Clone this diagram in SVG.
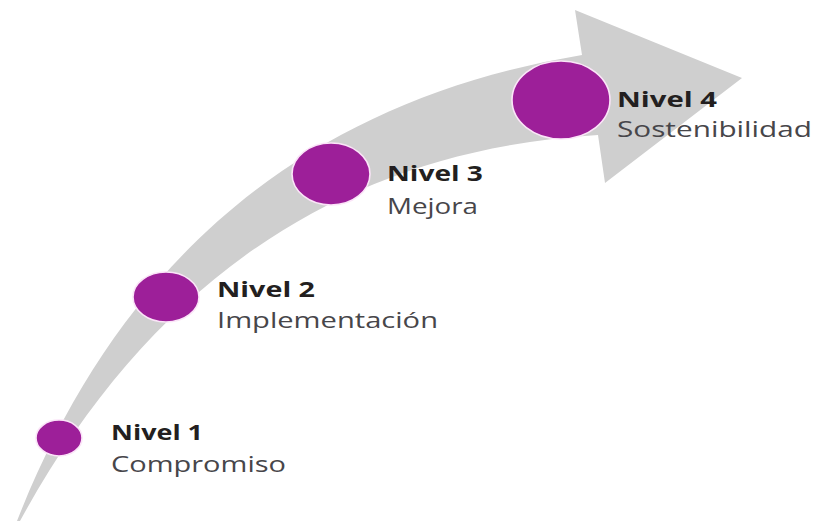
<svg xmlns="http://www.w3.org/2000/svg" width="815" height="523" viewBox="0 0 815 523">
  <style>
    .dot { fill: #9d1f99; stroke: #fbe4f8; stroke-width: 1.6; }
    .title { font-family: "Open Sans", "Liberation Sans", sans-serif; font-weight: 700; font-size: 22px; fill: #231f20; }
    .sub { font-family: "Open Sans", "Liberation Sans", sans-serif; font-weight: 500; font-size: 22px; fill: #47464a; }
  </style>
  <rect width="815" height="523" fill="#ffffff"/>
  <g id="connectors">
    <path id="arrow" d="M17,521 C121,256 308,101 582,55 L575,10 L742,78 L605,183 L598,135 C340,150 150,283 20,521 Z" fill="#cfcfcf"/>
  </g>
  <g id="nivel1">
    <ellipse class="dot" cx="59" cy="438" rx="23" ry="18"/>
    <text class="title" transform="translate(111,440) scale(1.3,1)" textLength="70.8" lengthAdjust="spacingAndGlyphs">Nivel 1</text>
    <text class="sub" transform="translate(111,472) scale(1.3,1)" textLength="134.6" lengthAdjust="spacingAndGlyphs">Compromiso</text>
  </g>
  <g id="nivel2">
    <ellipse class="dot" cx="166" cy="297" rx="33" ry="25"/>
    <text class="title" transform="translate(217,297) scale(1.3,1)" textLength="75.4" lengthAdjust="spacingAndGlyphs">Nivel 2</text>
    <text class="sub" transform="translate(217,327.5) scale(1.3,1)" textLength="170" lengthAdjust="spacingAndGlyphs">Implementación</text>
  </g>
  <g id="nivel3">
    <ellipse class="dot" cx="331" cy="174" rx="39" ry="31"/>
    <text class="title" transform="translate(387,181) scale(1.3,1)" textLength="73.8" lengthAdjust="spacingAndGlyphs">Nivel 3</text>
    <text class="sub" transform="translate(387,214) scale(1.3,1)" textLength="70" lengthAdjust="spacingAndGlyphs">Mejora</text>
  </g>
  <g id="nivel4">
    <ellipse class="dot" cx="561" cy="100" rx="49" ry="39"/>
    <text class="title" transform="translate(617,107) scale(1.3,1)" textLength="76.9" lengthAdjust="spacingAndGlyphs">Nivel 4</text>
    <text class="sub" transform="translate(617,137) scale(1.3,1)" textLength="150" lengthAdjust="spacingAndGlyphs">Sostenibilidad</text>
  </g>
</svg>
